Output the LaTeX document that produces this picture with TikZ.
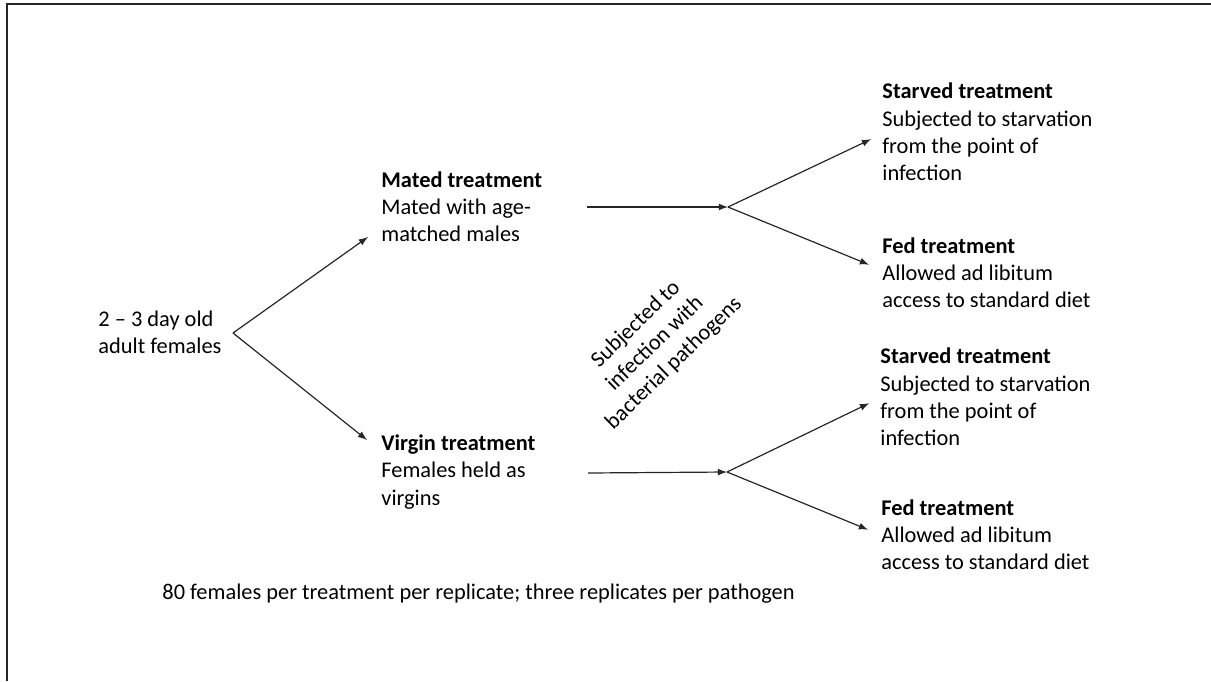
\documentclass[tikz,border=0pt]{standalone}
\usepackage{fontspec}
\setmainfont{Carlito}
\usetikzlibrary{arrows}

\tikzset{
  txt/.style={anchor=west, align=left, inner sep=0, font=\fontsize{11.2}{13.6}\selectfont},
  link/.style={black!85, line width=0.6pt, ->, >=latex}
}

\begin{document}
\begin{tikzpicture}[x=0.5pt, y=-0.5pt]
\useasboundingbox (0,0) rectangle (1211,681);

\draw[black!85, line width=1.2pt] (7,681) -- (7,4) -- (1211,4); %frame

\node[txt] (src) at (98,332) {2 – 3 day old\\adult females}; %start
\node[txt] (mated) at (381,207) {\textbf{Mated treatment}\\Mated with age-\\matched males};
\node[txt] (virgin) at (381,472) {\textbf{Virgin treatment}\\Females held as\\virgins};

\node[txt] (starvedA) at (882,132) {\textbf{Starved treatment}\\Subjected to starvation\\from the point of\\infection};
\node[txt] (fedA) at (882,273) {\textbf{Fed treatment}\\Allowed ad libitum\\access to standard diet};
\node[txt] (starvedB) at (880,397) {\textbf{Starved treatment}\\Subjected to starvation\\from the point of\\infection};
\node[txt] (fedB) at (881,535) {\textbf{Fed treatment}\\Allowed ad libitum\\access to standard diet};

\node[txt, anchor=center, align=center, rotate=44] (infect) at (655,344) {Subjected to\\infection with\\bacterial pathogens};
\node[txt] (note) at (162,594) {80 females per treatment per replicate; three replicates per pathogen};

% split of the females
\coordinate (split) at (233,333);
\coordinate (matedIn) at (368,237);
\coordinate (virginIn) at (367,440);
\draw[link] (split) -- (matedIn);
\draw[link] (split) -- (virginIn);

% infection, then starved or fed
\coordinate (matedOut) at (587,207);
\coordinate (forkA) at (728,207);
\draw[link] (matedOut) -- (forkA);
\draw[link, shorten >=6pt] (forkA) -- ([yshift=-1pt]starvedA.west);
\draw[link, shorten >=7pt] (forkA) -- ([yshift=1.5pt]fedA.west);

\coordinate (virginOut) at (588,473);
\coordinate (forkB) at (727,472);
\draw[link] (virginOut) -- (forkB);
\draw[link, shorten >=6pt] (forkB) -- ([yshift=-0.5pt]starvedB.west);
\draw[link, shorten >=7pt] (forkB) -- (fedB.west);

\end{tikzpicture}
\end{document}
